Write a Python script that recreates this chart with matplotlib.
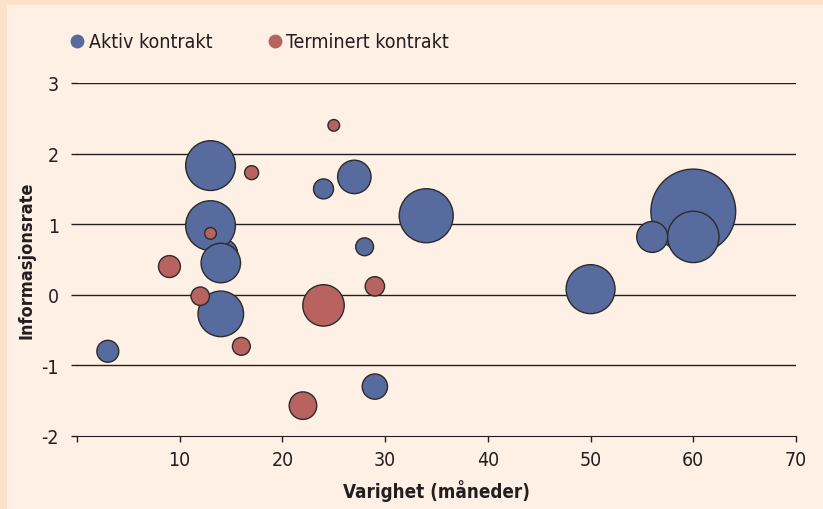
import matplotlib.pyplot as plt
from matplotlib.patches import Rectangle
from matplotlib.lines import Line2D

plt.rcParams['font.family'] = ['DejaVu Sans']
plt.rcParams['font.stretch'] = 'condensed'
plt.rcParams['axes.unicode_minus'] = False

# active contracts: duration (months), information ratio, bubble value
aktiv_x = [60, 14.2, 13, 13, 14, 14, 3, 24, 27, 28, 34, 29, 50, 56, 60]
aktiv_y = [1.18, 0.58, 1.83, 0.98, 0.45, -0.27, -0.8, 1.5, 1.67, 0.68, 1.12, -1.3, 0.08, 0.82, 0.82]
aktiv_v = [180, 22, 62, 62, 39, 52, 12, 10, 28, 8, 73, 16, 60, 24, 66]

# terminated contracts
term_x = [25, 17, 13, 9, 12, 16, 24, 29, 22]
term_y = [2.4, 1.73, 0.87, 0.4, -0.02, -0.73, -0.15, 0.12, -1.57]
term_v = [3.4, 4.9, 3.4, 12, 8.5, 8, 43, 9.4, 19]

xticks = [0, 10, 20, 30, 40, 50, 60, 70]
xtick_labels = ['', '10', '20', '30', '40', '50', '60', '70']
yticks = [-2, -1, 0, 1, 2, 3]

blue = '#586b9e'
red = '#b96360'
edge = '#2b2b2b'
txt = '#231f20'
scale = 20.7

fig = plt.figure(figsize=(8.23, 5.10), dpi=100)
fig.patch.set_facecolor('#fde2cb')
fig.patches.append(Rectangle((7 / 823, 0), 1, 1 - 6 / 510, transform=fig.transFigure,
                             facecolor='#fef0e5', edgecolor='none', zorder=-5))

ax = fig.add_axes([77 / 823, 1 - 437 / 510, (796 - 77) / 823, (437 - 84) / 510])
ax.set_facecolor('none')
ax.set_zorder(2)

for y in yticks[1:]:
    ax.axhline(y, color=txt, lw=1, zorder=1)

ax.scatter(aktiv_x, aktiv_y, s=[v * scale for v in aktiv_v], color=blue,
           edgecolors=edge, linewidths=1, zorder=3, clip_on=False)
ax.scatter(term_x, term_y, s=[v * scale for v in term_v], color=red,
           edgecolors=edge, linewidths=1, zorder=4, clip_on=False)

ax.set_xlim(0, 70)
ax.set_ylim(-2, 3)
ax.set_xticks(xticks)
ax.set_xticklabels(xtick_labels)
ax.set_yticks(yticks)
for s in ['top', 'right', 'left']:
    ax.spines[s].set_visible(False)
ax.spines['bottom'].set_color(txt)
ax.tick_params(axis='both', colors=txt, labelsize=14, length=4, width=1)
ax.tick_params(axis='x', pad=6)
ax.tick_params(axis='y', pad=9)

ax.set_xlabel('Varighet (måneder)', fontsize=13.5, fontweight='bold', color=txt, labelpad=7)
ax.set_ylabel('Informasjonsrate', fontsize=13, fontweight='bold', color=txt, labelpad=4)

handles = [
    Line2D([], [], marker='o', ls='none', markersize=10, markerfacecolor=blue, markeredgecolor='none'),
    Line2D([], [], marker='o', ls='none', markersize=10, markerfacecolor=red, markeredgecolor='none'),
]
fig.legend(handles, ['Aktiv kontrakt', 'Terminert kontrakt'], loc='center left',
           bbox_to_anchor=(48 / 823, 1 - 43 / 510), ncol=2, frameon=False,
           fontsize=14, handletextpad=0.0, columnspacing=2.6, labelcolor=txt,
           handlelength=1.2)

fig.savefig('out.png', dpi=100)
